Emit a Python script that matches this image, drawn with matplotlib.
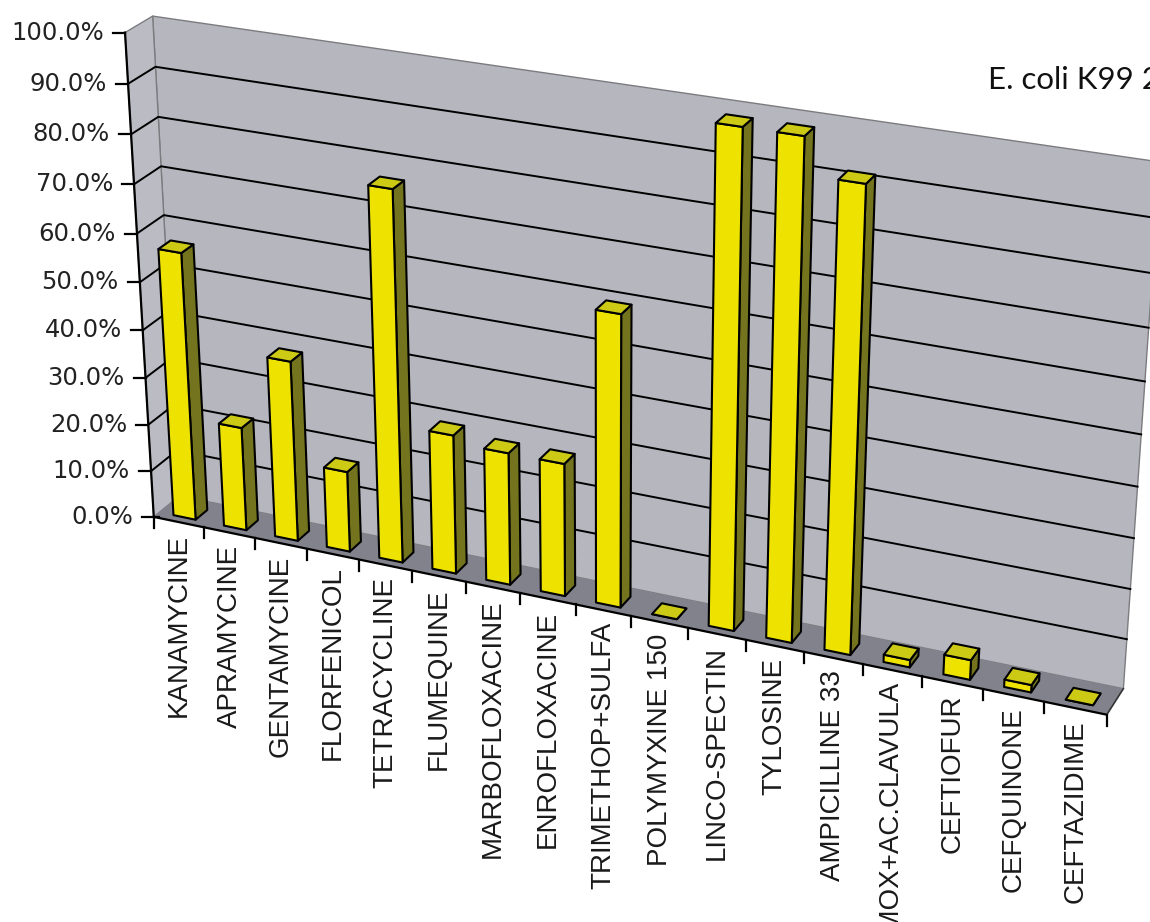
import numpy as np
import matplotlib.pyplot as plt
from matplotlib.patches import Polygon

# resistance per antibiotic (% of strains)
drugs = ["KANAMYCINE", "APRAMYCINE", "GENTAMYCINE", "FLORFENICOL", "TETRACYCLINE",
         "FLUMEQUINE", "MARBOFLOXACINE", "ENROFLOXACINE", "TRIMETHOP+SULFA",
         "POLYMYXINE 150", "LINCO-SPECTIN", "TYLOSINE", "AMPICILLINE 33",
         "AMOX+AC.CLAVULA", "CEFTIOFUR", "CEFQUINONE", "CEFTAZIDIME"]
resistant = [56.5, 22.0, 38.0, 17.0, 76.5, 29.0, 27.5, 27.5, 59.5,
             0.0, 98.5, 98.5, 91.5, 1.5, 4.0, 1.5, 0.0]
yticks = list(range(0, 101, 10))
title = "E. coli K99 2"

# --- 3d box -> canvas camera -------------------------------------------
# box coords: u along categories (0..1), d depth (0 front, 1 back wall),
# h value (0..1). anchor points of the chart frame on the canvas.
box_pts = np.array([[0, 0, 0], [0, 0, 1], [0, 1, 1], [0, 1, 0],
                    [1, 1, 0], [1, 0, 0], [1, 1, 1], [0, 0, 0.5],
                    [1, 1, 0.5], [8 / 17, 0, 0]], float)
canvas_pts = np.array([[155, 515], [123, 34], [155, 15], [178, 497],
                       [1122, 690], [1107, 715], [1160, 162], [139, 283],
                       [1142, 433], [577, 604]], float)


def fit_camera(X, x):
    m = x.mean(axis=0)
    s = np.sqrt(2) / np.mean(np.linalg.norm(x - m, axis=1))
    T = np.array([[s, 0, -s * m[0]], [0, s, -s * m[1]], [0, 0, 1]])
    xn = (T @ np.c_[x, np.ones(len(x))].T).T
    rows = []
    for P, (a, b, _) in zip(np.c_[X, np.ones(len(X))], xn):
        rows.append(np.r_[P, np.zeros(4), -a * P])
        rows.append(np.r_[np.zeros(4), P, -b * P])
    _, _, vt = np.linalg.svd(np.array(rows))
    return np.linalg.inv(T) @ vt[-1].reshape(3, 4)


CAM = fit_camera(box_pts, canvas_pts)


def proj(pts):
    pts = np.atleast_2d(np.asarray(pts, float))
    p = CAM @ np.c_[pts, np.ones(len(pts))].T
    return np.c_[p[0] / p[2], p[1] / p[2]]


n = len(drugs)
wall_col = "#b5b6be"
side_col = "#bbbcc3"
floor_col = "#82828c"
edge_col = "#7c7c80"
bar_front = "#eee300"
bar_side = "#74741f"
bar_top = "#cdca16"

fig = plt.figure(figsize=(11.5, 9.22), dpi=100)
ax = fig.add_axes([0, 0, 1, 1])
ax.set_xlim(0, 1150)
ax.set_ylim(922, 0)
ax.axis("off")


def face(corners, fc, ec="black", lw=1.5, z=1):
    ax.add_patch(Polygon(proj(corners), closed=True, fc=fc, ec=ec, lw=lw,
                         zorder=z, joinstyle="round"))


# walls and floor
face([[0, 1, 0], [1, 1, 0], [1, 1, 1], [0, 1, 1]], wall_col, edge_col, 1.0)
face([[0, 0, 0], [0, 1, 0], [0, 1, 1], [0, 0, 1]], side_col, edge_col, 1.0)
face([[0, 0, 0], [1, 0, 0], [1, 1, 0], [0, 1, 0]], floor_col, "none", 0)

# gridlines on side and back wall
for t in yticks[1:-1]:
    h = t / 100
    line = proj([[0, 0, h], [0, 1, h], [1, 1, h]])
    ax.plot(line[:, 0], line[:, 1], color="black", lw=1.4, zorder=2)

# value axis with ticks and labels
axis = proj([[0, 0, 0], [0, 0, 1]])
ax.plot(axis[:, 0], axis[:, 1], color="black", lw=1.6, zorder=3)
for t in yticks:
    x, y = proj([[0, 0, t / 100]])[0]
    ax.plot([x - 12, x + (5 if t == 0 else 0)], [y, y], color="black", lw=1.6, zorder=3)
    ax.text(x - 21, y, f"{t:.1f}%", ha="right", va="center",
            fontsize=17.5, family="DejaVu Sans", color="#222222")

# category axis along the front edge of the floor
front = proj([[0, 0, 0], [1, 0, 0]])
ax.plot(front[:, 0], front[:, 1], color="black", lw=1.6, zorder=3)
right_edge = proj([[1, 0, 0], [1, 1, 0]])
ax.plot(right_edge[:, 0], right_edge[:, 1], color="#333333", lw=1.2, zorder=3)
for k in range(n + 1):
    x, y = proj([[k / n, 0, 0]])[0]
    ax.plot([x, x], [y, y + 11], color="black", lw=1.6, zorder=3)

for i, name in enumerate(drugs):
    x, y = proj([[(i + 0.5) / n, 0, 0]])[0]
    ax.text(x, y + 12, name, rotation=90, ha="center", va="top",
            fontsize=20, family="Liberation Sans", color="#1a1a1a")

# bars, left to right
half = 0.22 / n
d0, d1 = 0.22, 0.68
for i, v in enumerate(resistant):
    u0 = (i + 0.5) / n - half
    u1 = (i + 0.5) / n + half
    h = v / 100
    face([[u1, d0, 0], [u1, d1, 0], [u1, d1, h], [u1, d0, h]], bar_side, z=4)
    face([[u0, d0, 0], [u1, d0, 0], [u1, d0, h], [u0, d0, h]], bar_front, z=4)
    face([[u0, d0, h], [u1, d0, h], [u1, d1, h], [u0, d1, h]], bar_top, z=4)

ax.text(988, 80, title, ha="left", va="center", fontsize=22.5,
        family="Lato", color="#111111")

fig.savefig("out.png", dpi=100)
